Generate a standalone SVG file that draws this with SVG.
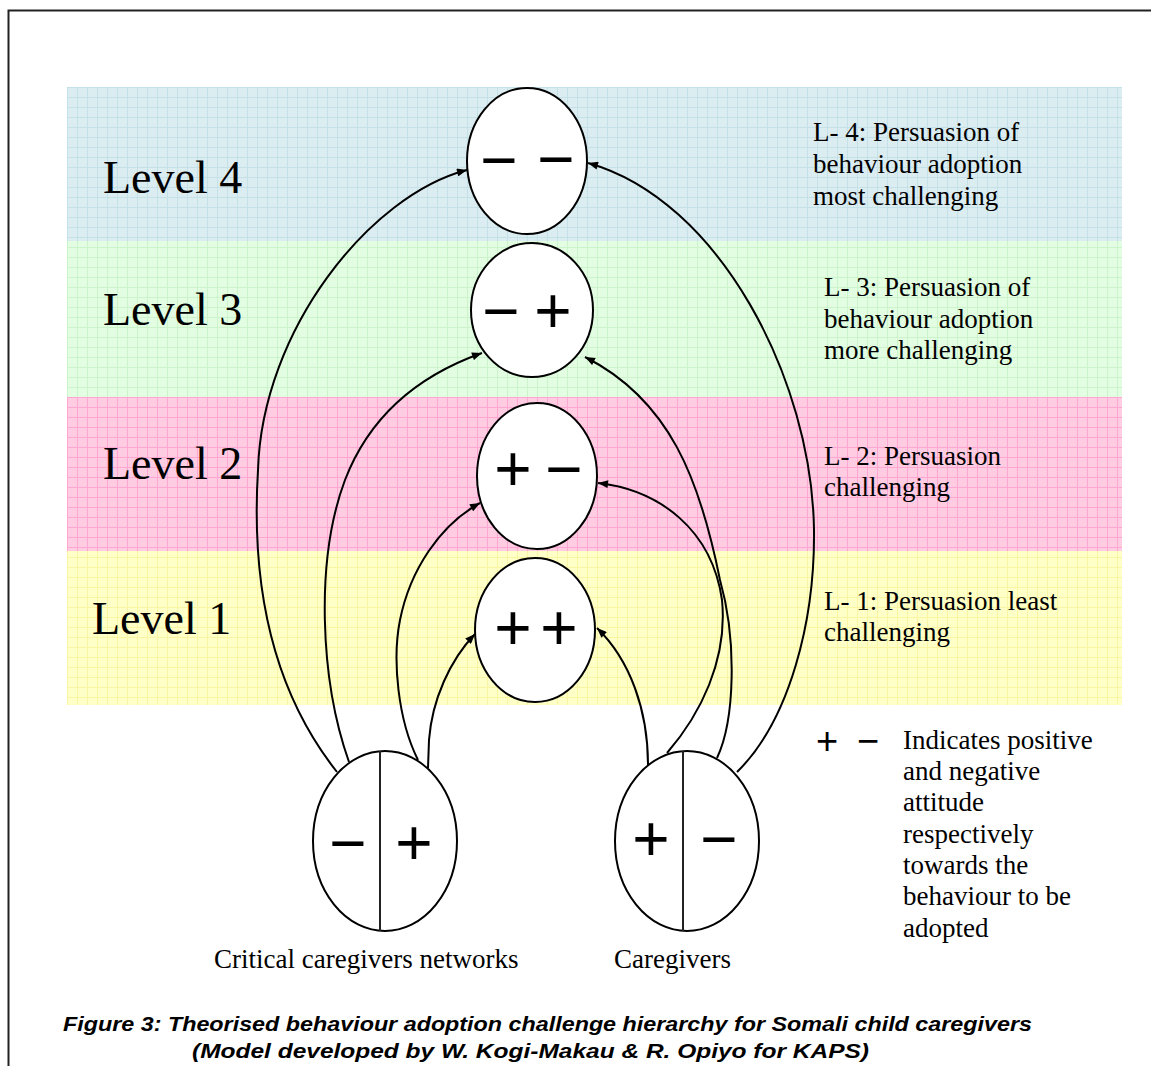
<svg xmlns="http://www.w3.org/2000/svg" width="1151" height="1066" viewBox="0 0 1151 1066">
<style>
.lvl{font-family:"Liberation Serif","Times New Roman",serif;font-size:46px;fill:#000}
.desc{font-family:"Liberation Serif","Times New Roman",serif;font-size:27px;fill:#000}
.sg{font-family:"Liberation Sans",Arial,sans-serif;font-size:64px;fill:#000;text-anchor:middle}
.lg{font-family:"Liberation Sans",Arial,sans-serif;font-size:38px;fill:#000;text-anchor:middle}
.cap{font-family:"Liberation Sans",Arial,sans-serif;font-size:21px;font-weight:bold;font-style:italic;fill:#000}
.node{fill:#fff;stroke:#000;stroke-width:2}
.conn path{fill:none;stroke:#000;stroke-width:2;marker-end:url(#ah)}
</style>
<defs>
<marker id="ah" viewBox="0 0 10 8" refX="10" refY="4" markerWidth="11" markerHeight="8" markerUnits="userSpaceOnUse" orient="auto"><path d="M0,0 L10,4 L0,8 z" fill="#000"/></marker>
<pattern id="gB" width="10" height="10" patternUnits="userSpaceOnUse" x="67" y="87"><rect width="10" height="10" fill="#dcedf2"/><path d="M0 0.5H10M0.5 0V10" stroke="#c4e1e7" stroke-width="1"/></pattern>
<pattern id="gG" width="10" height="10" patternUnits="userSpaceOnUse" x="67" y="87"><rect width="10" height="10" fill="#e2fde2"/><path d="M0 0.5H10M0.5 0V10" stroke="#cbf4cb" stroke-width="1"/></pattern>
<pattern id="gP" width="10" height="10" patternUnits="userSpaceOnUse" x="67" y="87"><rect width="10" height="10" fill="#ffcce2"/><path d="M0 0.5H10M0.5 0V10" stroke="#ffa6d2" stroke-width="1"/></pattern>
<pattern id="gY" width="10" height="10" patternUnits="userSpaceOnUse" x="67" y="87"><rect width="10" height="10" fill="#ffffc8"/><path d="M0 0.5H10M0.5 0V10" stroke="#f9f5a2" stroke-width="1"/></pattern>
</defs>
<rect width="1151" height="1066" fill="#fff"/>
<rect x="8.5" y="10.5" width="1200" height="1100" fill="none" stroke="#222" stroke-width="2"/>
<g id="bands">
<rect x="67" y="87" width="1055" height="154" fill="url(#gB)"/>
<rect x="67" y="241" width="1055" height="156" fill="url(#gG)"/>
<rect x="67" y="397" width="1055" height="154" fill="url(#gP)"/>
<rect x="67" y="551" width="1055" height="154" fill="url(#gY)"/>
</g>
<g id="level-labels">
<text class="lvl" x="103" y="193">Level 4</text>
<text class="lvl" x="103" y="325">Level 3</text>
<text class="lvl" x="103" y="479">Level 2</text>
<text class="lvl" x="92" y="634">Level 1</text>
</g>
<g id="level-descriptions">
<text class="desc" x="813" y="141">L- 4: Persuasion of</text>
<text class="desc" x="813" y="173">behaviour adoption</text>
<text class="desc" x="813" y="205">most challenging</text>
<text class="desc" x="824" y="296">L- 3: Persuasion of</text>
<text class="desc" x="824" y="328">behaviour adoption</text>
<text class="desc" x="824" y="359">more challenging</text>
<text class="desc" x="824" y="465">L- 2: Persuasion</text>
<text class="desc" x="824" y="496">challenging</text>
<text class="desc" x="824" y="610">L- 1: Persuasion least</text>
<text class="desc" x="824" y="641">challenging</text>
</g>
<g id="connectors" class="conn">
<path d="M337,772 C280,700 250,600 258,470 C262,330 370,195 467,170"/>
<path d="M349,762 C320,680 315,560 345,480 C370,415 420,375 482,353"/>
<path d="M418,760 C398,720 392,660 400,620 C410,570 440,525 480,503"/>
<path d="M428,768 L429,740 C432,700 450,660 475,634"/>
<path d="M648,765 C648,710 630,660 597,628"/>
<path d="M667,753 C700,715 728,660 722,600 C712,530 660,490 598,483"/>
<path d="M717,758 C735,720 737,640 720,580 C700,480 670,400 585,357"/>
<path d="M737,772 C790,720 815,620 814,530 C812,380 720,200 588,163"/>
</g>
<g id="node-l4">
<ellipse class="node" cx="527" cy="161" rx="60" ry="73"/>
<text class="sg" x="499" y="182">−</text>
<text class="sg" x="556" y="181">−</text>
</g>
<g id="node-l3">
<ellipse class="node" cx="532" cy="310" rx="61" ry="67"/>
<text class="sg" x="501" y="333">−</text>
<text class="sg" x="553" y="333">+</text>
</g>
<g id="node-l2">
<ellipse class="node" cx="537" cy="476" rx="60" ry="73"/>
<text class="sg" x="513" y="491">+</text>
<text class="sg" x="564" y="491">−</text>
</g>
<g id="node-l1">
<ellipse class="node" cx="535" cy="630" rx="60" ry="72"/>
<text class="sg" x="513" y="650">+</text>
<text class="sg" x="559" y="650">+</text>
</g>
<g id="node-networks">
<ellipse class="node" cx="385" cy="841" rx="72" ry="90"/>
<line x1="380" y1="751" x2="380" y2="931" stroke="#222" stroke-width="2"/>
<text class="sg" x="348" y="865">−</text>
<text class="sg" x="414" y="865">+</text>
<text class="desc" x="214" y="968">Critical caregivers networks</text>
</g>
<g id="node-caregivers">
<ellipse class="node" cx="687" cy="841" rx="72" ry="90"/>
<line x1="683" y1="751" x2="683" y2="931" stroke="#222" stroke-width="2"/>
<text class="sg" x="651" y="861">+</text>
<text class="sg" x="719" y="861">−</text>
<text class="desc" x="614" y="968">Caregivers</text>
</g>
<g id="legend">
<text class="lg" x="827" y="754">+</text>
<text class="lg" x="868" y="754">−</text>
<text class="desc" x="903" y="749">Indicates positive</text>
<text class="desc" x="903" y="780">and negative</text>
<text class="desc" x="903" y="811">attitude</text>
<text class="desc" x="903" y="843">respectively</text>
<text class="desc" x="903" y="874">towards the</text>
<text class="desc" x="903" y="905">behaviour to be</text>
<text class="desc" x="903" y="937">adopted</text>
</g>
<g id="caption">
<text class="cap" x="63" y="1031" textLength="969" lengthAdjust="spacingAndGlyphs">Figure 3: Theorised behaviour adoption challenge hierarchy for Somali child caregivers</text>
<text class="cap" x="192" y="1058" textLength="677" lengthAdjust="spacingAndGlyphs">(Model developed by W. Kogi-Makau &amp; R. Opiyo for KAPS)</text>
</g>
</svg>
